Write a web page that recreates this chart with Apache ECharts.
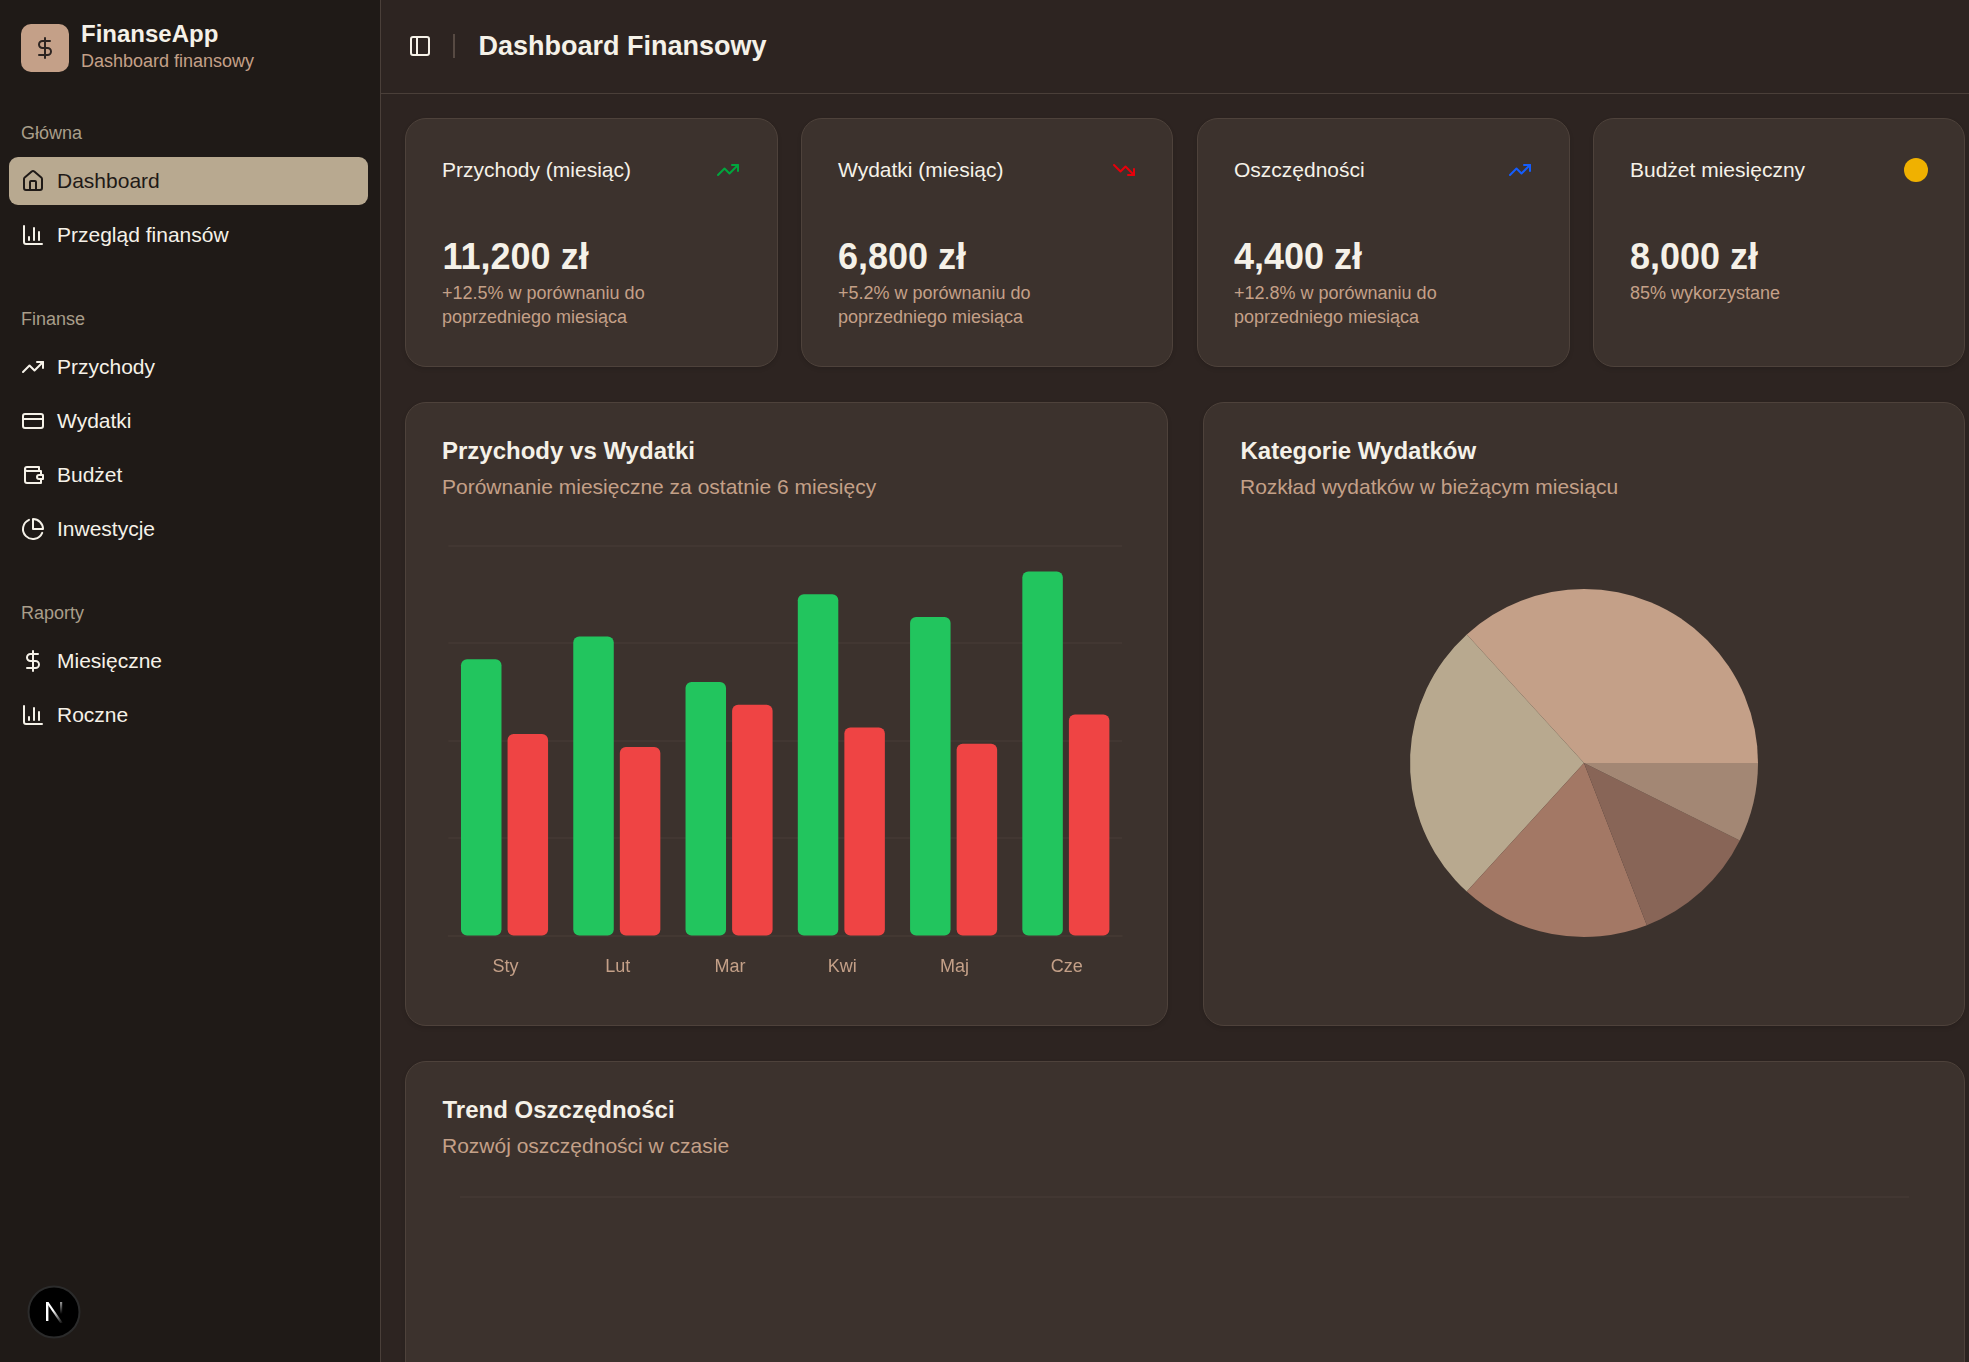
<!DOCTYPE html>
<html lang="pl">
<head>
<meta charset="utf-8">
<title>Dashboard Finansowy</title>
<script src="https://cdn.jsdelivr.net/npm/echarts@6/dist/echarts.min.js"></script>
<style>
html, body { margin: 0; width: 1969px; height: 1362px; overflow: hidden; background: #2d2421; font-family: "Liberation Sans", Arial, sans-serif; color: #f5f1e8; }
.box { position: absolute; box-sizing: border-box; }
.sidebar { left: 0; top: 0; width: 381px; height: 1362px; background: #1f1a17; border-right: 1.5px solid #4a3f39; }
.topline { left: 381px; top: 92.5px; width: 1588px; height: 1.5px; background: #4a3f39; }
.card { background: #3c322d; border: 1.5px solid #4e423b; border-radius: 21px; box-shadow: 0 2px 4px rgba(0,0,0,.12); }
.t { position: absolute; white-space: nowrap; line-height: 30px; }
.nav { font-size: 21px; }
.sec { font-size: 18px; color: #a99e8a; }
.cardtitle { font-size: 21px; }
.big { font-size: 36px; font-weight: bold; }
.sub { font-size: 18px; color: #c4a088; }
.h2 { font-size: 24px; font-weight: bold; }
.desc { font-size: 21px; color: #c4a088; }
svg.ic { position: absolute; width: 24px; height: 24px; fill: none; stroke: currentColor; stroke-width: 2; stroke-linecap: round; stroke-linejoin: round; }
.chart { position: absolute; }
</style>
</head>
<body>
<svg width="0" height="0" style="position:absolute">
  <symbol id="i-home" viewBox="0 0 24 24"><path d="M15 21v-8a1 1 0 0 0-1-1h-4a1 1 0 0 0-1 1v8"/><path d="M3 10a2 2 0 0 1 .709-1.528l7-5.999a2 2 0 0 1 2.582 0l7 5.999A2 2 0 0 1 21 10v9a2 2 0 0 1-2 2H5a2 2 0 0 1-2-2z"/></symbol>
  <symbol id="i-bars" viewBox="0 0 24 24"><path d="M3 3v16a2 2 0 0 0 2 2h16"/><path d="M18 17V9"/><path d="M13 17V5"/><path d="M8 17v-3"/></symbol>
  <symbol id="i-up" viewBox="0 0 24 24"><polyline points="22 7 13.5 15.5 8.5 10.5 2 17"/><polyline points="16 7 22 7 22 13"/></symbol>
  <symbol id="i-down" viewBox="0 0 24 24"><polyline points="22 17 13.5 8.5 8.5 13.5 2 7"/><polyline points="16 17 22 17 22 11"/></symbol>
  <symbol id="i-card" viewBox="0 0 24 24"><rect width="20" height="14" x="2" y="5" rx="2"/><line x1="2" x2="22" y1="10" y2="10"/></symbol>
  <symbol id="i-wallet" viewBox="0 0 24 24"><path d="M20 12V8H6a2 2 0 0 1-2-2c0-1.1.9-2 2-2h12v4"/><path d="M4 6v12c0 1.1.9 2 2 2h14v-4"/><path d="M18 12a2 2 0 0 0-2 2c0 1.1.9 2 2 2h4v-4h-4z"/></symbol>
  <symbol id="i-pie" viewBox="0 0 24 24"><path d="M21.21 15.89A10 10 0 1 1 8 2.83"/><path d="M22 12A10 10 0 0 0 12 2v10z"/></symbol>
  <symbol id="i-dollar" viewBox="0 0 24 24"><line x1="12" x2="12" y1="2" y2="22"/><path d="M17 5H9.5a3.5 3.5 0 0 0 0 7h5a3.5 3.5 0 0 1 0 7H6"/></symbol>
  <symbol id="i-panel" viewBox="0 0 24 24"><rect width="18" height="18" x="3" y="3" rx="2"/><path d="M9 3v18"/></symbol>
</svg>

<!-- sidebar -->
<div class="box sidebar"></div>
<div class="box" style="left:21px;top:24px;width:48px;height:48px;border-radius:10px;background:#c4a088"></div>
<svg class="ic" style="left:33px;top:36px;color:#2d2421"><use href="#i-dollar"/></svg>
<div class="t" style="left:81px;top:19px;font-size:24px;font-weight:bold">FinanseApp</div>
<div class="t" style="left:81px;top:46px;font-size:18px;color:#c4a088">Dashboard finansowy</div>

<div class="t sec" style="left:21px;top:118px">Główna</div>
<div class="box" style="left:9px;top:157px;width:359px;height:48px;border-radius:9px;background:#b8a990"></div>
<svg class="ic" style="left:21px;top:169px;color:#1f1a17"><use href="#i-home"/></svg>
<div class="t nav" style="left:57px;top:166px;color:#1f1a17">Dashboard</div>
<svg class="ic" style="left:21px;top:223px"><use href="#i-bars"/></svg>
<div class="t nav" style="left:57px;top:220px">Przegląd finansów</div>

<div class="t sec" style="left:21px;top:304px">Finanse</div>
<svg class="ic" style="left:21px;top:355px"><use href="#i-up"/></svg>
<div class="t nav" style="left:57px;top:352px">Przychody</div>
<svg class="ic" style="left:21px;top:409px"><use href="#i-card"/></svg>
<div class="t nav" style="left:57px;top:406px">Wydatki</div>
<svg class="ic" style="left:21px;top:463px"><use href="#i-wallet"/></svg>
<div class="t nav" style="left:57px;top:460px">Budżet</div>
<svg class="ic" style="left:21px;top:517px"><use href="#i-pie"/></svg>
<div class="t nav" style="left:57px;top:514px">Inwestycje</div>

<div class="t sec" style="left:21px;top:598px">Raporty</div>
<svg class="ic" style="left:21px;top:649px"><use href="#i-dollar"/></svg>
<div class="t nav" style="left:57px;top:646px">Miesięczne</div>
<svg class="ic" style="left:21px;top:703px"><use href="#i-bars"/></svg>
<div class="t nav" style="left:57px;top:700px">Roczne</div>

<!-- next.js badge -->
<svg style="position:absolute;left:27px;top:1285px" width="54" height="54" viewBox="0 0 54 54">
  <defs>
    <linearGradient id="nd" x1="0" y1="0" x2="1" y2="1"><stop offset="0.4" stop-color="#fff"/><stop offset="1" stop-color="#fff" stop-opacity="0"/></linearGradient>
    <linearGradient id="ns" x1="0" y1="0" x2="0" y2="1"><stop offset="0" stop-color="#fff"/><stop offset="1" stop-color="#fff" stop-opacity="0"/></linearGradient>
  </defs>
  <circle cx="27" cy="27" r="25.5" fill="#000" stroke="#2b2b2b" stroke-width="2"/>
  <rect x="19" y="17" width="2.4" height="19" fill="#fff"/>
  <path d="M19 17h2.4L36 38h-2.8z" fill="url(#nd)"/>
  <rect x="33" y="17" width="2.2" height="12" fill="url(#ns)" opacity="0.6"/>
</svg>

<!-- header -->
<div class="box topline"></div>
<svg class="ic" style="left:408px;top:34px"><use href="#i-panel"/></svg>
<div class="box" style="left:453px;top:34px;width:1.5px;height:24px;background:#574a43"></div>
<div class="t" style="left:478.5px;top:31px;font-size:27px;font-weight:bold">Dashboard Finansowy</div>

<!-- stat cards -->
<div class="box card" style="left:405px;top:118px;width:373px;height:249px"></div>
<div class="t cardtitle" style="left:442px;top:155px">Przychody (miesiąc)</div>
<svg class="ic" style="left:716px;top:158px;color:#00a63e"><use href="#i-up"/></svg>
<div class="t big" style="left:442.5px;top:242px">11,200 zł</div>
<div class="t sub" style="left:442px;top:278px">+12.5% w porównaniu do</div>
<div class="t sub" style="left:442px;top:302px">poprzedniego miesiąca</div>

<div class="box card" style="left:801px;top:118px;width:372px;height:249px"></div>
<div class="t cardtitle" style="left:838px;top:155px">Wydatki (miesiąc)</div>
<svg class="ic" style="left:1112px;top:158px;color:#e7000b"><use href="#i-down"/></svg>
<div class="t big" style="left:838px;top:242px">6,800 zł</div>
<div class="t sub" style="left:838px;top:278px">+5.2% w porównaniu do</div>
<div class="t sub" style="left:838px;top:302px">poprzedniego miesiąca</div>

<div class="box card" style="left:1197px;top:118px;width:372.5px;height:249px"></div>
<div class="t cardtitle" style="left:1234px;top:155px">Oszczędności</div>
<svg class="ic" style="left:1508px;top:158px;color:#155dfc"><use href="#i-up"/></svg>
<div class="t big" style="left:1234px;top:242px">4,400 zł</div>
<div class="t sub" style="left:1234px;top:278px">+12.8% w porównaniu do</div>
<div class="t sub" style="left:1234px;top:302px">poprzedniego miesiąca</div>

<div class="box card" style="left:1593px;top:118px;width:372px;height:249px"></div>
<div class="t cardtitle" style="left:1630px;top:155px">Budżet miesięczny</div>
<div class="box" style="left:1904px;top:158px;width:24px;height:24px;border-radius:50%;background:#f0b100"></div>
<div class="t big" style="left:1630px;top:242px">8,000 zł</div>
<div class="t sub" style="left:1630px;top:278px">85% wykorzystane</div>

<!-- chart cards -->
<div class="box card" style="left:405px;top:402px;width:762.5px;height:624px"></div>
<div class="t h2" style="left:442px;top:436px">Przychody vs Wydatki</div>
<div class="t desc" style="left:442px;top:472px">Porównanie miesięczne za ostatnie 6 miesięcy</div>
<div class="chart" id="barChart" style="left:405px;top:402px;width:762px;height:624px"></div>

<div class="box card" style="left:1203px;top:402px;width:762px;height:624px"></div>
<div class="t h2" style="left:1240.5px;top:436px">Kategorie Wydatków</div>
<div class="t desc" style="left:1240px;top:472px">Rozkład wydatków w bieżącym miesiącu</div>
<div class="chart" id="pieChart" style="left:1203px;top:402px;width:762px;height:624px"></div>

<div class="box card" style="left:405px;top:1061px;width:1560px;height:640px"></div>
<div class="t h2" style="left:442.5px;top:1095px">Trend Oszczędności</div>
<div class="t desc" style="left:442px;top:1131px">Rozwój oszczędności w czasie</div>
<div class="chart" id="trendChart" style="left:405px;top:1061px;width:1560px;height:640px"></div>

<script>
const months = ['Sty', 'Lut', 'Mar', 'Kwi', 'Maj', 'Cze'];
const income = [8500, 9200, 7800, 10500, 9800, 11200];
const expenses = [6200, 5800, 7100, 6400, 5900, 6800];
const expenseShares = [2500, 1800, 1200, 800, 500];
const shareColors = ['#c4a088', '#b8a98f', '#a37865', '#886557', '#a38774'];
// the line itself lies below the visible part of the page, nothing to read
const savings = [];

const gridColor = '#453a34';
const labelColor = '#c4a088';
const fontName = '"Liberation Sans", Arial, sans-serif';

const barChart = echarts.init(document.getElementById('barChart'));
const pieChart = echarts.init(document.getElementById('pieChart'));
const trendChart = echarts.init(document.getElementById('trendChart'));

barChart.setOption({
    animation: false,
    grid: { left: 43.4, top: 143.5, width: 673.6, height: 390 },
    xAxis: {
        type: 'category',
        data: months,
        axisTick: { show: false },
        axisLine: { lineStyle: { color: gridColor, width: 1.5 } },
        axisLabel: { color: labelColor, fontSize: 18, fontFamily: fontName, margin: 22.5, padding: [0, 0, 0, 2] }
    },
    yAxis: {
        type: 'value',
        min: 0,
        max: 12000,
        interval: 3000,
        axisLabel: { show: false },
        axisLine: { show: false },
        axisTick: { show: false },
        splitLine: { lineStyle: { color: gridColor, width: 1.5 } }
    },
    series: [
        { name: 'Przychody', type: 'bar', data: income, barWidth: 40.5, barGap: '15%', itemStyle: { color: '#22c55e', borderRadius: 6 } },
        { name: 'Wydatki', type: 'bar', data: expenses, barWidth: 40.5, itemStyle: { color: '#ef4444', borderRadius: 6 } }
    ]
});

pieChart.setOption({
    animation: false,
    color: shareColors,
    series: [{
        type: 'pie',
        center: [381, 361],
        radius: [0, 174],
        startAngle: 0,
        clockwise: false,
        label: { show: false },
        labelLine: { show: false },
        data: expenseShares
    }]
});

trendChart.setOption({
    animation: false,
    grid: { left: 55, top: 136, right: 56, bottom: 70 },
    xAxis: {
        type: 'category',
        data: months,
        axisTick: { show: false },
        axisLine: { lineStyle: { color: gridColor, width: 1.5 } },
        axisLabel: { color: labelColor, fontSize: 18, fontFamily: fontName, margin: 21 }
    },
    yAxis: {
        type: 'value',
        min: 0,
        max: 8000,
        interval: 8000,
        axisLabel: { show: false },
        axisLine: { show: false },
        axisTick: { show: false },
        splitLine: { lineStyle: { color: gridColor, width: 1.5 } }
    },
    series: [{ type: 'line', data: savings, showSymbol: false }]
});
</script>
</body>
</html>
